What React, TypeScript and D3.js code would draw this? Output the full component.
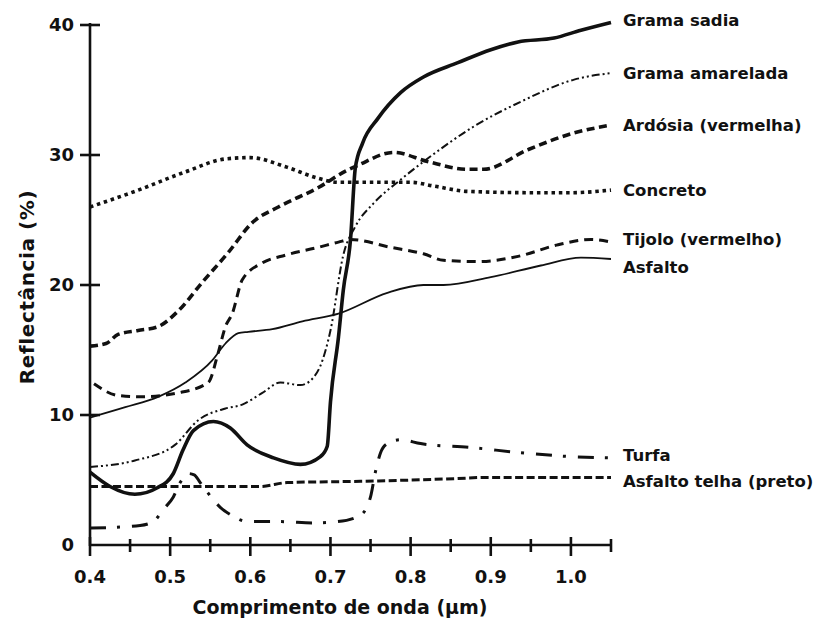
import React from "react";
import * as d3 from "d3";

// ---- data ----
const xTicksMajor = [0.4, 0.5, 0.6, 0.7, 0.8, 0.9, 1.0];
const xTicksMinor = [0.45, 0.55, 0.65, 0.75, 0.85, 0.95, 1.05];
const xTickLabels = ["0.4", "0.5", "0.6", "0.7", "0.8", "0.9", "1.0"];
const yTicks = [0, 10, 20, 30, 40];

const gramaSadiaW = [0.4, 0.425, 0.456, 0.484, 0.504, 0.516, 0.529, 0.554, 0.575, 0.596, 0.629, 0.6625, 0.6875, 0.696, 0.7, 0.71, 0.716, 0.725, 0.731, 0.74, 0.759, 0.7875, 0.816, 0.859, 0.9, 0.934, 0.979, 1.0125, 1.05];
const gramaSadiaV = [5.6, 4.5, 3.9, 4.4, 5.5, 7.3, 8.8, 9.5, 9.0, 7.7, 6.7, 6.2, 6.8, 7.6, 11.0, 16.0, 19.6, 23.5, 29.0, 30.9, 32.8, 34.8, 36.0, 37.1, 38.1, 38.7, 39.0, 39.6, 40.2];

const gramaAmareladaW = [0.4, 0.456, 0.506, 0.535, 0.569, 0.59, 0.615, 0.6375, 0.6625, 0.679, 0.69, 0.7, 0.716, 0.731, 0.754, 0.7875, 0.825, 0.879, 0.9375, 1.004, 1.05];
const gramaAmareladaV = [6.0, 6.5, 7.7, 9.6, 10.5, 10.8, 11.7, 12.5, 12.3, 12.9, 14.2, 16.5, 22.3, 24.5, 26.3, 28.1, 29.9, 32.2, 34.1, 35.8, 36.3];

const ardosiaW = [0.4, 0.42, 0.435, 0.46, 0.485, 0.51, 0.54, 0.5725, 0.6025, 0.635, 0.685, 0.72, 0.734, 0.779, 0.821, 0.871, 0.891, 0.946, 1.004, 1.05];
const ardosiaV = [15.3, 15.5, 16.2, 16.5, 16.8, 18.0, 20.2, 22.5, 24.8, 26.0, 27.5, 28.8, 29.2, 30.2, 29.5, 28.9, 28.9, 30.4, 31.7, 32.3];

const concretoW = [0.4, 0.456, 0.519, 0.569, 0.6, 0.644, 0.685, 0.71, 0.76, 0.8, 0.83, 0.871, 0.954, 1.0, 1.05];
const concretoV = [26.0, 27.2, 28.7, 29.7, 29.8, 29.1, 28.2, 27.9, 27.9, 27.9, 27.6, 27.2, 27.1, 27.1, 27.3];

const tijoloW = [0.405, 0.435, 0.465, 0.51, 0.5475, 0.56, 0.569, 0.5775, 0.59, 0.615, 0.644, 0.685, 0.71, 0.725, 0.775, 0.816, 0.841, 0.884, 0.934, 0.984, 1.025, 1.05];
const tijoloV = [12.4, 11.5, 11.4, 11.7, 12.5, 14.8, 16.8, 17.8, 20.4, 21.7, 22.3, 22.9, 23.3, 23.5, 22.9, 22.4, 21.9, 21.8, 22.2, 23.1, 23.5, 23.3];

const asfaltoW = [0.4, 0.444, 0.485, 0.519, 0.5525, 0.569, 0.585, 0.5975, 0.6275, 0.665, 0.71, 0.771, 0.816, 0.841, 0.9, 0.9625, 1.0125, 1.05];
const asfaltoV = [9.8, 10.6, 11.4, 12.5, 14.2, 15.5, 16.3, 16.4, 16.6, 17.2, 17.8, 19.4, 20.0, 20.0, 20.6, 21.5, 22.1, 22.0];

const turfaW = [0.4, 0.4625, 0.479, 0.491, 0.504, 0.5125, 0.522, 0.53, 0.5375, 0.5625, 0.579, 0.596, 0.6375, 0.679, 0.709, 0.7375, 0.75, 0.756, 0.7625, 0.771, 0.7875, 0.8125, 0.875, 0.9375, 1.0, 1.05];
const turfaV = [1.3, 1.5, 1.8, 2.7, 3.7, 4.8, 5.5, 5.4, 4.8, 2.9, 2.2, 1.8, 1.8, 1.7, 1.8, 2.3, 3.7, 5.6, 7.1, 7.8, 8.1, 7.8, 7.5, 7.1, 6.8, 6.7];

const asfaltoTelhaW = [0.4, 0.5125, 0.6125, 0.646, 0.7375, 0.854, 0.896, 1.05];
const asfaltoTelhaV = [4.5, 4.5, 4.5, 4.8, 4.9, 5.1, 5.2, 5.2];

const seriesNames = ["Grama sadia", "Grama amarelada", "Ardósia (vermelha)", "Concreto", "Tijolo (vermelho)", "Asfalto", "Turfa", "Asfalto telha (preto)"];
const labelY = [20, 73, 125, 190, 239, 267, 455, 481];

type Style = { width: number; dash?: string };
const styles: Style[] = [
  { width: 3.6 },
  { width: 2, dash: "8,3,2,3,2,3" },
  { width: 3.6, dash: "8,4.5" },
  { width: 3.6, dash: "3.5,3.8" },
  { width: 3, dash: "9,6" },
  { width: 1.8 },
  { width: 3, dash: "16,11,3,12" },
  { width: 3, dash: "8,3.5" },
];

const allW = [gramaSadiaW, gramaAmareladaW, ardosiaW, concretoW, tijoloW, asfaltoW, turfaW, asfaltoTelhaW];
const allV = [gramaSadiaV, gramaAmareladaV, ardosiaV, concretoV, tijoloV, asfaltoV, turfaV, asfaltoTelhaV];

export default function App() {
  const x = d3.scaleLinear().domain([0.4, 1.05]).range([90, 611]);
  const y = d3.scaleLinear().domain([0, 40]).range([545, 25]);
  const line = d3
    .line<[number, number]>()
    .x((d) => x(d[0]))
    .y((d) => y(d[1]))
    .curve(d3.curveMonotoneX);
  const font = "'DejaVu Sans', sans-serif";

  return (
    <svg
      width={830}
      height={621}
      style={{ position: "absolute", left: 0, top: 0, background: "#fff" }}
      fontFamily={font}
    >
      {allW.map((ws, i) => {
        const pts = ws.map((w, j) => [w, allV[i][j]] as [number, number]);
        const s = styles[i];
        return (
          <path
            key={i}
            d={line(pts) || ""}
            fill="none"
            stroke="#111"
            strokeWidth={s.width}
            strokeDasharray={s.dash}
            strokeLinejoin="round"
          />
        );
      })}

      <line x1={x(0.4)} x2={x(0.4)} y1={y(40) - 2} y2={y(0) + 1} stroke="#111" strokeWidth={2.6} />
      <line x1={x(0.4) - 1} x2={x(1.05) + 1} y1={y(0)} y2={y(0)} stroke="#111" strokeWidth={2.6} />
      {yTicks.filter((t) => t > 0).map((t) => (
        <line key={t} x1={x(0.4) - 10} x2={x(0.4) + 10} y1={y(t)} y2={y(t)} stroke="#111" strokeWidth={2.6} />
      ))}
      {xTicksMajor.map((t) => (
        <line key={t} x1={x(t)} x2={x(t)} y1={y(0) - 8} y2={y(0) + 11} stroke="#111" strokeWidth={2.6} />
      ))}
      {xTicksMinor.map((t) => (
        <line key={t} x1={x(t)} x2={x(t)} y1={y(0) - 6} y2={y(0) + 7} stroke="#111" strokeWidth={2.6} />
      ))}

      {yTicks.map((t) => (
        <text key={t} x={74} y={y(t)} dy="0.36em" textAnchor="end" fontSize={18} fontWeight="bold" fill="#111">
          {t}
        </text>
      ))}
      {xTicksMajor.map((t, i) => (
        <text key={t} x={x(t)} y={577} dy="0.36em" textAnchor="middle" fontSize={18} fontWeight="bold" fill="#111">
          {xTickLabels[i]}
        </text>
      ))}

      <text x={340} y={607} dy="0.36em" textAnchor="middle" fontSize={19} fontWeight={600} fill="#111">
        Comprimento de onda (µm)
      </text>
      <text
        transform="translate(27,287) rotate(-90)"
        dy="0.36em"
        textAnchor="middle"
        fontSize={20}
        fontWeight={600}
        letterSpacing={0.6}
        fill="#111"
      >
        Reflectância (%)
      </text>

      {seriesNames.map((n, i) => (
        <text key={n} x={623} y={labelY[i]} dy="0.36em" fontSize={16.5} fontWeight="bold" fill="#111">
          {n}
        </text>
      ))}
    </svg>
  );
}
